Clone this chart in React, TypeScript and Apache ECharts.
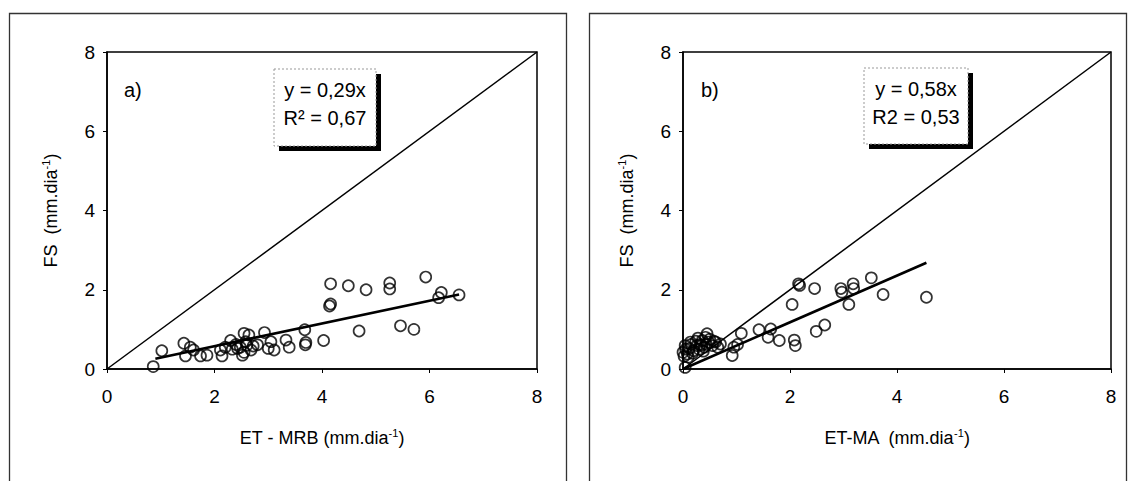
import React, { useEffect, useRef } from "react";
import * as echarts from "echarts";

// Panel a) ET - MRB vs FS
const mrbX = [0.86, 1.02, 1.43, 1.46, 1.55, 1.61, 1.74, 1.86, 2.11, 2.14, 2.30, 2.33, 2.43, 2.52, 2.55, 2.58, 2.64, 2.68, 2.55, 2.60, 2.80, 2.93, 3.05, 3.11, 3.33, 3.39, 3.68, 3.69, 3.70, 4.03, 4.14, 4.16, 4.16, 4.49, 4.69, 4.82, 5.26, 5.26, 5.46, 5.71, 5.93, 6.17, 6.22, 6.55, 2.40, 2.48, 2.72, 2.20, 3.00];
const mrbFS = [0.06, 0.46, 0.65, 0.33, 0.55, 0.48, 0.33, 0.35, 0.48, 0.33, 0.72, 0.50, 0.52, 0.35, 0.90, 0.69, 0.86, 0.48, 0.42, 0.60, 0.61, 0.92, 0.69, 0.48, 0.73, 0.55, 0.99, 0.61, 0.67, 0.72, 1.59, 1.64, 2.15, 2.10, 0.96, 2.00, 2.17, 2.02, 1.09, 1.00, 2.32, 1.80, 1.93, 1.87, 0.62, 0.55, 0.58, 0.55, 0.52];
const mrbFitX = [0.9, 6.55];
const mrbFitY = [0.26, 1.88];

// Panel b) ET-MA vs FS
const maX = [0.04, 0.00, 0.04, 0.14, 0.08, 0.20, 0.26, 0.36, 0.42, 0.45, 0.48, 0.55, 0.61, 0.70, 0.10, 0.05, 0.30, 0.40, 0.50, 0.92, 0.95, 1.02, 1.09, 1.42, 1.59, 1.64, 1.80, 2.04, 2.08, 2.10, 2.16, 2.18, 2.46, 2.49, 2.65, 2.95, 2.97, 3.10, 3.18, 3.19, 3.52, 3.74, 4.55, 0.02, 0.12, 0.18, 0.24, 0.32, 0.38, 0.44, 0.15, 0.28, 0.35, 0.58, 0.65];
const maFS = [0.04, 0.42, 0.59, 0.68, 0.38, 0.46, 0.59, 0.72, 0.80, 0.89, 0.68, 0.59, 0.68, 0.63, 0.30, 0.50, 0.50, 0.55, 0.75, 0.34, 0.55, 0.62, 0.90, 0.99, 0.80, 1.01, 0.72, 1.63, 0.73, 0.59, 2.15, 2.11, 2.03, 0.95, 1.11, 2.03, 1.94, 1.63, 2.15, 2.03, 2.30, 1.88, 1.81, 0.32, 0.52, 0.40, 0.70, 0.62, 0.45, 0.62, 0.62, 0.78, 0.60, 0.70, 0.55];
const maFitX = [0.0, 4.55];
const maFitY = [0.0, 2.68];

const identityX = [0, 8];
const identityY = [0, 8];

const axisTicks = [0, 2, 4, 6, 8];

const FONT = "'Liberation Sans', Arial, sans-serif";

function pairs(xs: number[], ys: number[]) {
  return xs.map((x, i) => [x, ys[i]]);
}

export default function App() {
  const ref = useRef<HTMLDivElement>(null);

  useEffect(() => {
    if (!ref.current) return;
    const chart = echarts.init(ref.current, null, { renderer: "svg" });

    const supRich = {
      sup: { fontSize: 11, fontFamily: FONT, color: "#000", verticalAlign: "top", padding: [0, 0, 10, 0] },
    };

    const mkX = (gridIndex: number, name: string) => ({
      type: "value",
      gridIndex,
      min: axisTicks[0],
      max: axisTicks[axisTicks.length - 1],
      interval: 2,
      name,
      nameLocation: "middle",
      nameGap: 58,
      nameTextStyle: { fontSize: 18, fontFamily: FONT, color: "#000", rich: supRich },
      axisLine: { show: true, lineStyle: { color: "#000", width: 1.5 } },
      axisTick: { show: true, inside: false, length: 4, lineStyle: { color: "#000" } },
      axisLabel: { fontSize: 19, fontFamily: FONT, color: "#000", margin: 18 },
      splitLine: { show: false },
    });
    const mkY = (gridIndex: number, name: string) => ({
      type: "value",
      gridIndex,
      min: axisTicks[0],
      max: axisTicks[axisTicks.length - 1],
      interval: 2,
      name,
      nameLocation: "middle",
      nameRotate: 90,
      nameGap: 46,
      nameTextStyle: { fontSize: 18, fontFamily: FONT, color: "#000", rich: supRich },
      axisLine: { show: true, lineStyle: { color: "#000", width: 1.5 } },
      axisTick: { show: true, inside: false, length: 4, lineStyle: { color: "#000" } },
      axisLabel: { fontSize: 19, fontFamily: FONT, color: "#000", margin: 12 },
      splitLine: { show: false },
    });

    const scatterStyle = {
      type: "scatter",
      symbol: "circle",
      symbolSize: 11,
      itemStyle: { color: "rgba(255,255,255,0)", borderColor: "#000", borderWidth: 1.7 },
      z: 3,
    };

    const lineBase = (width: number) => ({
      type: "line",
      symbol: "none",
      lineStyle: { color: "#000", width },
      z: 4,
    });

    const textBox = (x: number, y: number, w: number, h: number, l1: string, l2: string) => ({
      type: "group",
      children: [
        { type: "rect", shape: { x: x + 5, y: y + 5, width: w, height: h }, style: { fill: "#000" } },
        { type: "rect", shape: { x, y, width: w, height: h }, style: { fill: "#fff", stroke: "#999", lineWidth: 1, lineDash: [2, 2] } },
        { type: "text", style: { x: x + w / 2, y: y + 21, text: l1, fontSize: 20, fontFamily: FONT, fill: "#000", align: "center", verticalAlign: "middle" } },
        { type: "text", style: { x: x + w / 2, y: y + 49, text: l2, fontSize: 20, fontFamily: FONT, fill: "#000", align: "center", verticalAlign: "middle" } },
      ],
    });

    chart.setOption({
      animation: false,
      backgroundColor: "#fff",
      grid: [
        { left: 107, top: 52, width: 430, height: 317, show: true, borderColor: "#000", borderWidth: 1.5, backgroundColor: "transparent" },
        { left: 683, top: 52, width: 428, height: 317, show: true, borderColor: "#000", borderWidth: 1.5, backgroundColor: "transparent" },
      ],
      xAxis: [
        mkX(0, "ET - MRB (mm.dia{sup|-1})"),
        mkX(1, "ET-MA  (mm.dia{sup|-1})"),
      ],
      yAxis: [
        mkY(0, "FS  (mm.dia{sup|-1})"),
        mkY(1, "FS  (mm.dia{sup|-1})"),
      ],
      series: [
        { ...lineBase(1.5), xAxisIndex: 0, yAxisIndex: 0, data: pairs(identityX, identityY) },
        { ...lineBase(2.6), xAxisIndex: 0, yAxisIndex: 0, data: pairs(mrbFitX, mrbFitY) },
        { ...scatterStyle, xAxisIndex: 0, yAxisIndex: 0, data: pairs(mrbX, mrbFS) },
        { ...lineBase(1.5), xAxisIndex: 1, yAxisIndex: 1, data: pairs(identityX, identityY) },
        { ...lineBase(2.6), xAxisIndex: 1, yAxisIndex: 1, data: pairs(maFitX, maFitY) },
        { ...scatterStyle, xAxisIndex: 1, yAxisIndex: 1, data: pairs(maX, maFS) },
      ],
      graphic: [
        { type: "rect", shape: { x: 9.5, y: 13.5, width: 557, height: 500 }, style: { fill: "none", stroke: "#333", lineWidth: 1.3 }, z: -1 },
        { type: "rect", shape: { x: 589.5, y: 13.5, width: 537, height: 500 }, style: { fill: "none", stroke: "#333", lineWidth: 1.3 }, z: -1 },
        textBox(274, 69, 102, 77, "y = 0,29x", "R\u00B2 = 0,67"),
        textBox(864, 68, 104, 76, "y = 0,58x", "R2 = 0,53"),
        { type: "text", style: { x: 124, y: 90, text: "a)", fontSize: 20, fontFamily: FONT, fill: "#000", verticalAlign: "middle" } },
        { type: "text", style: { x: 701, y: 90, text: "b)", fontSize: 20, fontFamily: FONT, fill: "#000", verticalAlign: "middle" } },
      ],
    });

    return () => chart.dispose();
  }, []);

  return (
    <div
      ref={ref}
      style={{ position: "absolute", left: 0, top: 0, width: 1130, height: 481, background: "#fff" }}
    />
  );
}
